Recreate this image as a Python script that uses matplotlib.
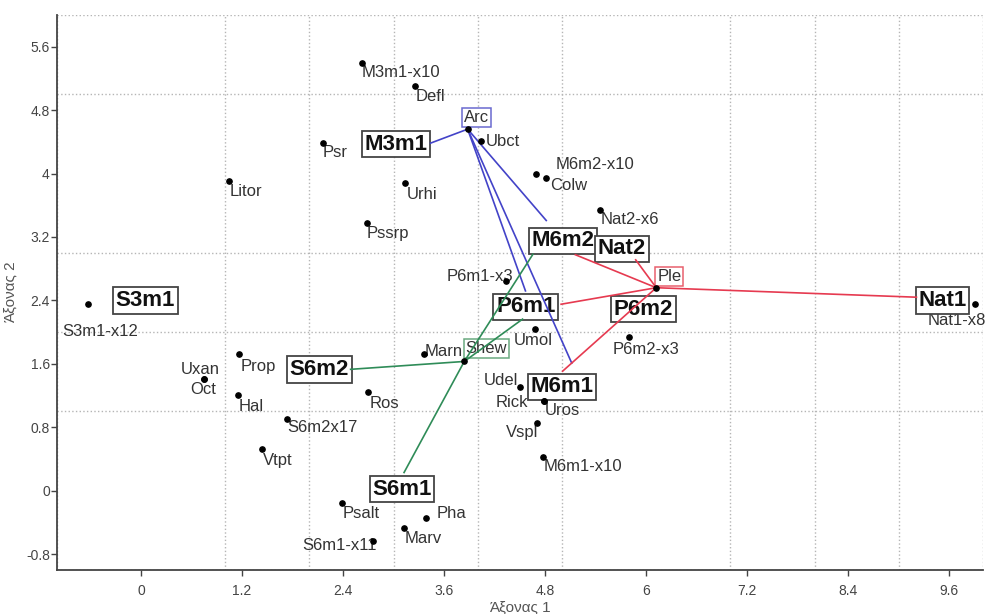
import matplotlib
matplotlib.use("Agg")
from matplotlib import pyplot as plt
from matplotlib.ticker import FixedLocator, MultipleLocator

plt.rcParams["font.family"] = ["Liberation Sans", "DejaVu Sans"]

# ------------------------------------------------------------------------------
#  Data
# ------------------------------------------------------------------------------

# Species / sample points (small labels)
pt_names = [
    "M3m1-x10", "Defl", "Ubct", "Psr", "Litor", "Urhi", "Pssrp", "M6m2-x10",
    "Colw", "Nat2-x6", "P6m1-x3", "Nat1-x8", "P6m2-x3", "S3m1-x12", "Uxan",
    "Oct", "Prop", "Hal", "S6m2x17", "Vtpt", "Ros", "Marn", "Umol", "Udel",
    "Rick", "Uros", "Vspl", "M6m1-x10", "Psalt", "Pha", "Marv", "S6m1-x11",
]
pt_x = [
    2.62, 3.26, 4.04, 2.16, 1.05, 3.14, 2.68, 4.69,
    4.81, 5.45, 4.33, 9.90, 5.80, -0.63, 0.75,
    0.75, 1.17, 1.15, 1.73, 1.44, 2.70, 3.36, 4.68, 4.50,
    4.79, 4.79, 4.70, 4.78, 2.39, 3.39, 3.13, 2.76,
]
pt_y = [
    5.40, 5.11, 4.41, 4.39, 3.90, 3.88, 3.38, 4.00,
    3.95, 3.54, 2.65, 2.35, 1.94, 2.35, 1.41,
    1.41, 1.72, 1.21, 0.91, 0.53, 1.24, 1.72, 2.04, 1.31,
    1.13, 1.13, 0.85, 0.43, -0.15, -0.34, -0.47, -0.64,
]

# Indicator species, each joined to the sites it is linked with
group_names = ["Arc", "Ple", "Shew"]
group_x = [3.88, 6.12, 3.84]
group_y = [4.56, 2.56, 1.63]

arc_ends_x = [3.43, 4.82, 4.57, 5.12]
arc_ends_y = [4.38, 3.40, 2.51, 1.60]
ple_ends_x = [9.22, 5.87, 5.15, 4.98, 5.00]
ple_ends_y = [2.44, 2.92, 2.98, 2.35, 1.50]
shew_ends_x = [2.48, 3.12, 4.54, 4.66]
shew_ends_y = [1.53, 0.22, 2.17, 2.99]

# Sites (bold boxed labels)
site_names = ["M3m1", "M6m2", "Nat2", "P6m1", "P6m2", "S3m1", "S6m2", "M6m1",
              "S6m1", "Nat1"]
site_x = [3.03, 5.01, 5.71, 4.57, 5.97, 0.05, 2.12, 5.00, 3.10, 9.52]
site_y = [4.37, 3.15, 3.05, 2.32, 2.29, 2.40, 1.53, 1.31, 0.02, 2.40]

x_ticks = [0, 1.2, 2.4, 3.6, 4.8, 6, 7.2, 8.4, 9.6]
x_tick_labels = ["0", "1.2", "2.4", "3.6", "4.8", "6", "7.2", "8.4", "9.6"]
y_ticks = [-0.8, 0, 0.8, 1.6, 2.4, 3.2, 4, 4.8, 5.6]
y_tick_labels = ["-0.8", "0", "0.8", "1.6", "2.4", "3.2", "4", "4.8", "5.6"]

# ------------------------------------------------------------------------------
#  Label placement (pixel offsets from the point, ha, va)
# ------------------------------------------------------------------------------

DEFAULT_PLACE = (0, -3, "left", "top")
place = {
    "M3m1-x10": (0, -2, "left", "top"),
    "Ubct": (5, 0, "left", "center"),
    "Psr": (0, -2, "left", "top"),
    "Urhi": (1, -4, "left", "top"),
    "M6m2-x10": (20, 5, "left", "baseline"),
    "Colw": (4, 0, "left", "top"),
    "Nat2-x6": (1, -2, "left", "top"),
    "P6m1-x3": (8, 0, "right", "baseline"),
    "Nat1-x8": (-47, -9, "left", "top"),
    "P6m2-x3": (-17, -5, "left", "top"),
    "S3m1-x12": (-26, -20, "left", "top"),
    "Uxan": (16, 5, "right", "baseline"),
    "Oct": (12, -3, "right", "top"),
    "Prop": (1, -5, "left", "top"),
    "Hal": (1, -4, "left", "top"),
    "S6m2x17": (1, -1, "left", "top"),
    "Vtpt": (1, -4, "left", "top"),
    "Ros": (1, -4, "left", "top"),
    "Marn": (1, -2, "left", "baseline"),
    "Umol": (-21, -4, "left", "top"),
    "Udel": (-2, 2, "right", "baseline"),
    "Rick": (-16, -6, "right", "baseline"),
    "Uros": (0, -2, "left", "top"),
    "Vspl": (2, -2, "right", "top"),
    "M6m1-x10": (0, -2, "left", "top"),
    "Pha": (10, 0, "left", "baseline"),
    "S6m1-x11": (3, 3, "right", "top"),
}

group_colors = ["#4343c8", "#e63a50", "#2f8c58"]
group_edges = ["#6a6ad0", "#e8606e", "#6aaa80"]
group_offsets = [(9, 12), (13, 11), (22, 13)]

# ------------------------------------------------------------------------------
#  Plot
# ------------------------------------------------------------------------------

fig = plt.figure(figsize=(9.87, 6.14), dpi=100)
ax = fig.add_axes([0.0575, 0.0717, 0.9384, 0.9039])

ax.set_xlim(-1, 10)
ax.set_ylim(-1, 6)

# Lines from the indicator species to their sites (drawn over the boxes)
group_ends = [
    (arc_ends_x, arc_ends_y),
    (ple_ends_x, ple_ends_y),
    (shew_ends_x, shew_ends_y),
]
for gx, gy, (ex, ey), col in zip(group_x, group_y, group_ends, group_colors):
    for x1, y1 in zip(ex, ey):
        ax.plot([gx, x1], [gy, y1], color=col, lw=1.2, zorder=7,
                solid_capstyle="butt")

# Points
ax.plot(pt_x, pt_y, "o", color="k", ms=3.8, zorder=8, linestyle="none")
ax.plot(group_x, group_y, "o", color="k", ms=3.8, zorder=8, linestyle="none")

for name, x, y in zip(pt_names, pt_x, pt_y):
    dx, dy, ha, va = place.get(name, DEFAULT_PLACE)
    ax.annotate(
        name, (x, y), xytext=(dx, dy), textcoords="offset pixels",
        ha=ha, va=va, fontsize=12, color="#333333", zorder=5,
        annotation_clip=False,
    )

for name, x, y, edge, off in zip(group_names, group_x, group_y, group_edges,
                                 group_offsets):
    ax.annotate(
        name, (x, y), xytext=off, textcoords="offset pixels",
        ha="center", va="center", fontsize=12, color="#333333", zorder=5,
        bbox=dict(boxstyle="square,pad=0.12", fc="white", ec=edge, lw=1.1),
    )

for name, x, y in zip(site_names, site_x, site_y):
    ax.text(
        x, y, name, ha="center", va="center", fontsize=16, fontweight="bold",
        color="#111111", zorder=6,
        bbox=dict(boxstyle="square,pad=0.12", fc="white", ec="#444444",
                  lw=1.3),
    )

# Axes styling: grid on integer positions, labelled ticks every 1.2 / 0.8
ax.xaxis.set_major_locator(FixedLocator(x_ticks))
ax.set_xticklabels(x_tick_labels)
ax.yaxis.set_major_locator(FixedLocator(y_ticks))
ax.set_yticklabels(y_tick_labels)
ax.xaxis.set_minor_locator(MultipleLocator(1))
ax.yaxis.set_minor_locator(MultipleLocator(1))
ax.grid(which="minor", linestyle=":", color="#b5b5b5", lw=1.0)
ax.grid(which="major", visible=False)
ax.set_axisbelow(True)
ax.tick_params(which="minor", length=0)
ax.tick_params(which="major", length=4, width=1, colors="#444444",
               labelsize=10)
ax.tick_params(axis="y", pad=1)
ax.tick_params(axis="x", pad=6)

for side in ["top", "right"]:
    ax.spines[side].set_visible(False)
for side in ["left", "bottom"]:
    ax.spines[side].set_color("#444444")
    ax.spines[side].set_linewidth(1.3)

ax.set_xlabel("Άξονας 1", fontsize=11, color="#555555", labelpad=2)
ax.set_ylabel("Άξονας 2", fontsize=11, color="#555555", labelpad=6)

fig.savefig("out.png", dpi=100, facecolor="white")
